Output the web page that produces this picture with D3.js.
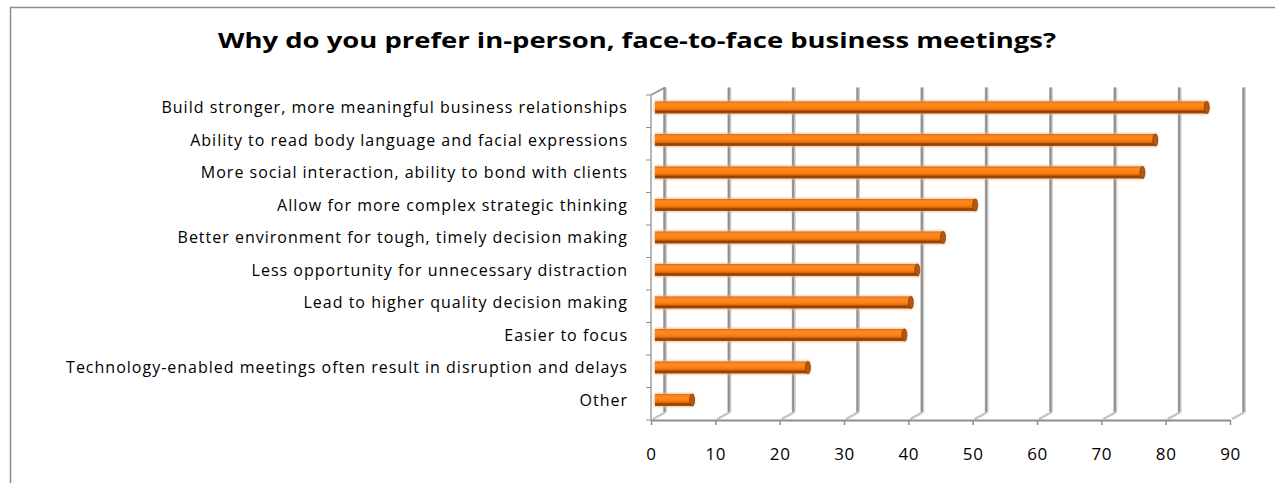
<!DOCTYPE html>
<html>
<head>
<meta charset="utf-8">
<script src="https://cdn.jsdelivr.net/npm/d3@7"></script>
<style>
  body { margin: 0; background: #fff; }
  svg { display: block; }
</style>
</head>
<body>
<div id="chart"></div>
<script>
// survey answers, top to bottom
const categories = [
  "Build stronger, more meaningful business relationships",
  "Ability to read body language and facial expressions",
  "More social interaction, ability to bond with clients",
  "Allow for more complex strategic thinking",
  "Better environment for tough, timely decision making",
  "Less opportunity for unnecessary distraction",
  "Lead to higher quality decision making",
  "Easier to focus",
  "Technology-enabled meetings often result in disruption and delays",
  "Other"
];
const values = [86, 78, 76, 50, 45, 41, 40, 39, 24, 6];
const xTicks = [0, 10, 20, 30, 40, 50, 60, 70, 80, 90];

const width = 1275
const height = 483
const font = "'Open Sans', sans-serif"

// fake 3d depth of the plot box
const depthX = 14
const depthY = -7.5

const svg = d3.select("#chart")
  .append("svg")
  .attr("width", width)
  .attr("height", height)

const defs = svg.append("defs")

// cylinder shading for the bars
const grad = defs.append("linearGradient")
  .attr("id", "barGrad")
  .attr("x1", 0).attr("y1", 0).attr("x2", 0).attr("y2", 1)
grad.selectAll("stop")
  .data([
    [0, "#d96a12"], [0.15, "#f98526"], [0.35, "#ff8a1c"], [0.6, "#f77a0b"],
    [0.72, "#d86208"], [0.82, "#8e3f02"], [1, "#a0541c"]
  ])
  .enter().append("stop")
  .attr("offset", d => d[0])
  .attr("stop-color", d => d[1])

defs.append("filter")
  .attr("id", "glow")
  .attr("x", "-5%").attr("y", "-50%").attr("width", "110%").attr("height", "200%")
  .append("feGaussianBlur")
  .attr("stdDeviation", 1.2)

// chart border (only left and top visible)
svg.append("path")
  .attr("d", "M10.5," + height + "V7.5H" + width)
  .attr("fill", "none")
  .attr("stroke", "#8c8c8c")
  .attr("stroke-width", 1.5)

svg.append("text")
  .attr("x", 637)
  .attr("y", 48)
  .attr("text-anchor", "middle")
  .attr("font-family", font)
  .attr("font-weight", "bold")
  .attr("font-size", "22px")
  .attr("textLength", 838)
  .attr("lengthAdjust", "spacingAndGlyphs")
  .attr("fill", "#000")
  .text("Why do you prefer in-person, face-to-face business meetings?")

const x = d3.scaleLinear()
  .domain([0, 90])
  .range([651, 1230])

const y = d3.scaleBand()
  .domain(categories)
  .range([95, 420])

const plotTop = y.range()[0]
const plotBottom = y.range()[1]

// back wall gridlines + floor diagonals
const grid = svg.append("g")
xTicks.forEach(function (t) {
  const bx = x(t) + depthX
  const g = grid.append("g")
  g.append("line")
    .attr("x1", bx).attr("x2", bx)
    .attr("y1", plotTop + depthY).attr("y2", plotBottom + depthY)
    .attr("stroke", "#cfcfcf").attr("stroke-width", 4)
  g.append("line")
    .attr("x1", bx - 0.5).attr("x2", bx - 0.5)
    .attr("y1", plotTop + depthY).attr("y2", plotBottom + depthY)
    .attr("stroke", "#8e8e8e").attr("stroke-width", 2)
  g.append("line")
    .attr("x1", x(t) + 2).attr("y1", plotBottom - 1)
    .attr("x2", bx).attr("y2", plotBottom + depthY)
    .attr("stroke", "#c4c4c4").attr("stroke-width", 2.5)
})

// left wall edges
svg.append("line")
  .attr("x1", x(0)).attr("x2", x(0))
  .attr("y1", plotTop).attr("y2", plotBottom)
  .attr("stroke", "#a0a0a0").attr("stroke-width", 1.5)
svg.append("line")
  .attr("x1", x(0)).attr("y1", plotTop)
  .attr("x2", x(0) + depthX).attr("y2", plotTop + depthY)
  .attr("stroke", "#8e8e8e").attr("stroke-width", 1.5)

// category ticks on the left edge
svg.append("g")
  .selectAll("line")
  .data(categories.map(c => y(c)).concat([plotBottom]))
  .enter().append("line")
  .attr("x1", x(0) - 5).attr("x2", x(0))
  .attr("y1", d => d).attr("y2", d => d)
  .attr("stroke", "#8e8e8e").attr("stroke-width", 1)

// value axis
const xAxis = svg.append("g")
  .attr("transform", "translate(0," + plotBottom + ")")
  .call(d3.axisBottom(x).tickValues(xTicks).tickSize(5).tickSizeOuter(0).tickPadding(23))
xAxis.select(".domain").attr("stroke", "#8e8e8e").attr("stroke-width", 2)
xAxis.selectAll(".tick line").attr("stroke", "#8e8e8e").attr("stroke-width", 1.5)
xAxis.selectAll("text")
  .attr("font-family", font)
  .attr("font-size", "17px")
  .attr("letter-spacing", "0.6px")
  .attr("fill", "#000")

// category labels
svg.append("g")
  .selectAll("text")
  .data(categories)
  .enter().append("text")
  .attr("x", 628)
  .attr("y", d => y(d) + y.bandwidth() / 2 + depthY / 2)
  .attr("dy", "0.35em")
  .attr("text-anchor", "end")
  .attr("font-family", font)
  .attr("font-size", "16px")
  .attr("letter-spacing", "1px")
  .attr("fill", "#000")
  .text(d => d)

// bars, drawn at half depth
const barH = 12
const bars = svg.append("g")
  .attr("transform", "translate(4," + depthY / 2 + ")")
  .selectAll("g")
  .data(categories.map((c, i) => ({ cat: c, val: values[i] })))
  .enter().append("g")

bars.append("rect")
  .attr("x", x(0) - 1)
  .attr("y", d => y(d.cat) + y.bandwidth() / 2 - barH / 2 - 1)
  .attr("width", d => x(d.val) - x(0) + 2)
  .attr("height", barH + 2)
  .attr("rx", 3)
  .attr("fill", "#f0b47c")
  .attr("opacity", 0.8)
  .attr("filter", "url(#glow)")

bars.append("rect")
  .attr("x", x(0))
  .attr("y", d => y(d.cat) + y.bandwidth() / 2 - barH / 2)
  .attr("width", d => x(d.val) - x(0))
  .attr("height", barH)
  .attr("fill", "url(#barGrad)")

bars.append("ellipse")
  .attr("cx", d => x(d.val) - 1.5)
  .attr("cy", d => y(d.cat) + y.bandwidth() / 2)
  .attr("rx", 2.5)
  .attr("ry", barH / 2)
  .attr("fill", "#b4580e")
  .attr("stroke", "#8a3e04")
  .attr("stroke-width", 0.8)
</script>
</body>
</html>
